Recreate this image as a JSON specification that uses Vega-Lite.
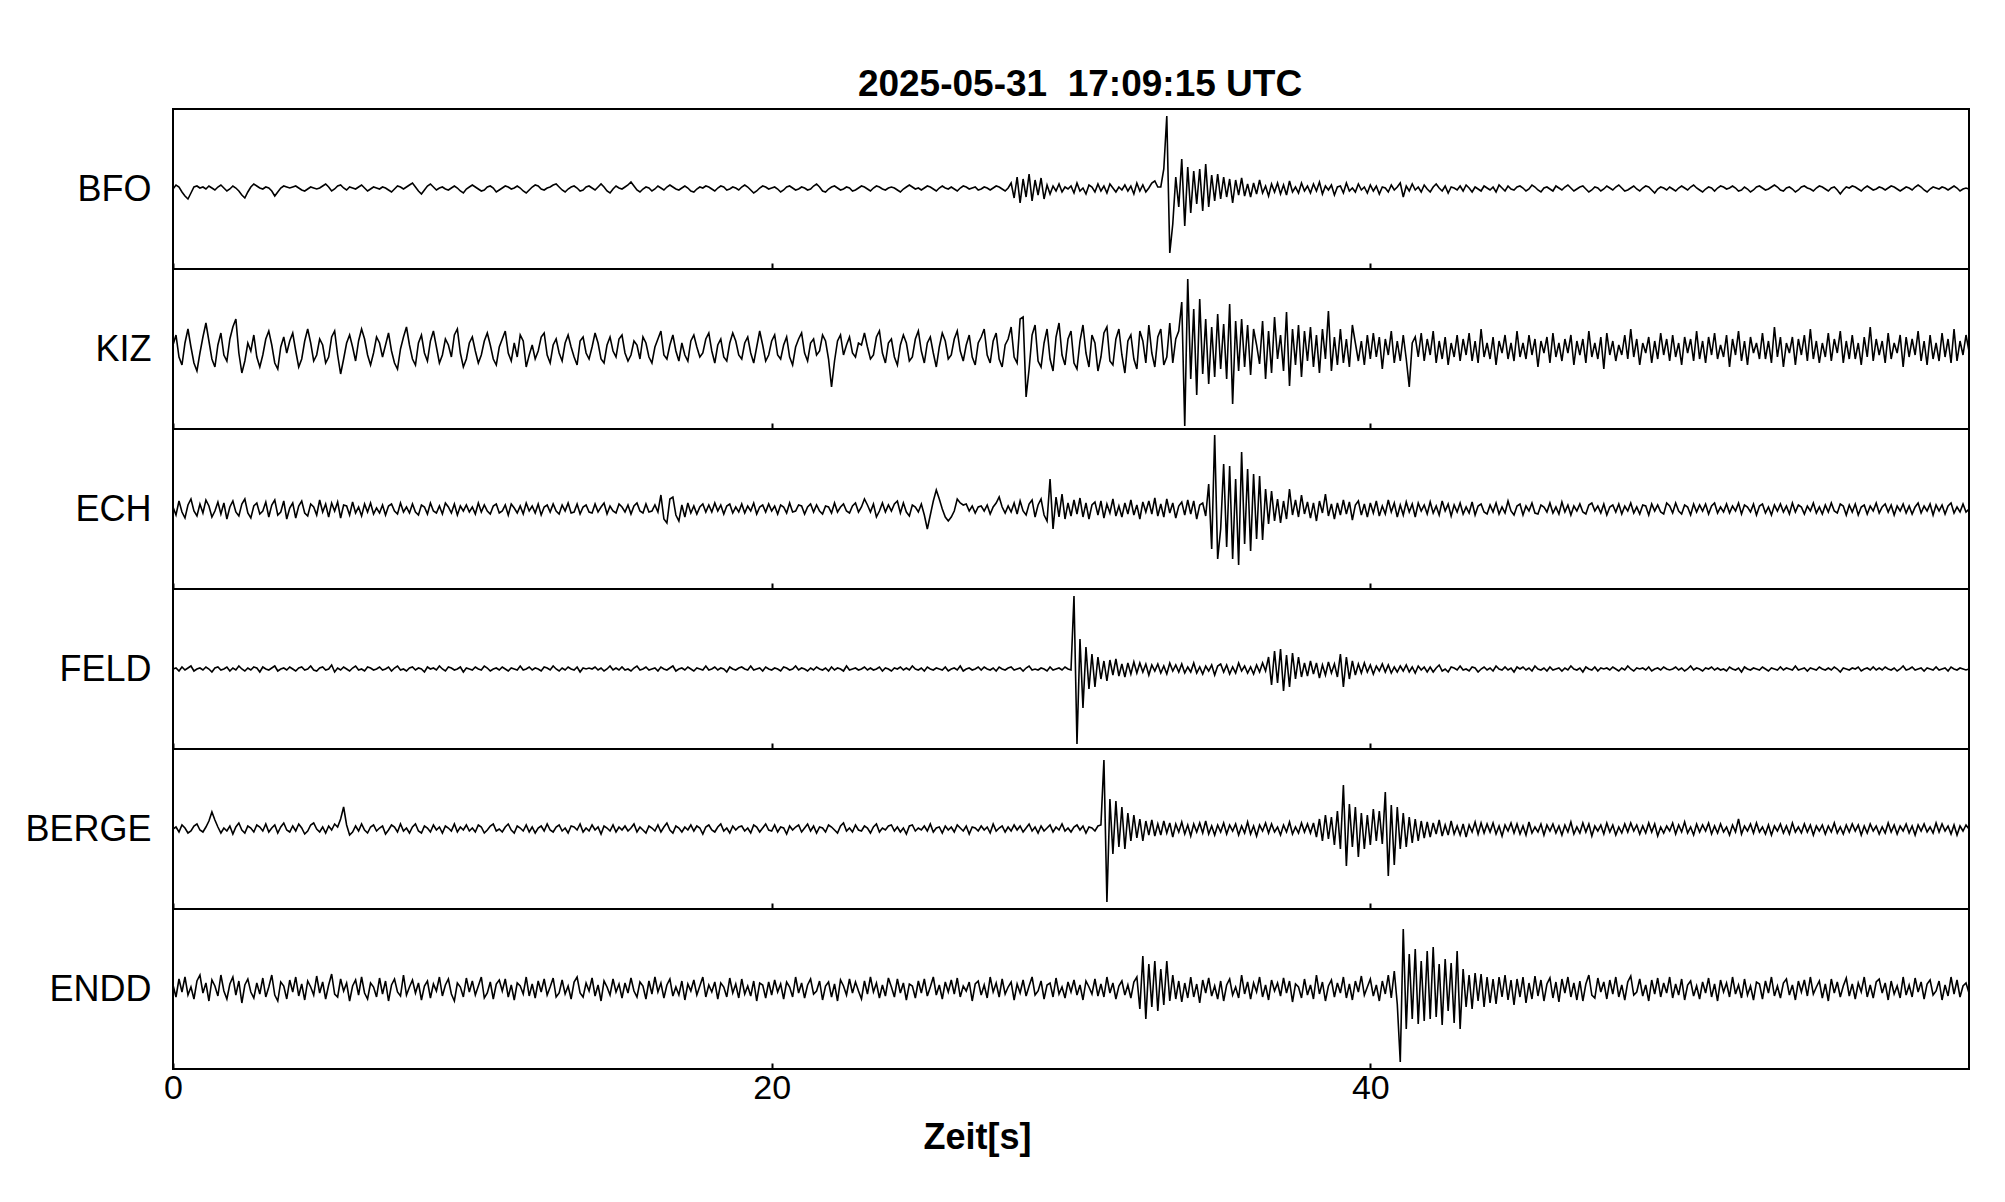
{
"$schema": "https://vega.github.io/schema/vega-lite/v6.json",
"background": "white",
"padding": {"left": 23, "top": 65, "right": 5, "bottom": 5},
"config": {"view": {"stroke": "black", "strokeWidth": 2}, "font": "Liberation Sans"},
"bounds": "flush",
"spacing": 0,
"data": {"values": [
{"t":0.0,"BFO":0,"KIZ":4,"ECH":2,"FELD":0,"BERGE":0,"ENDD":4},
{"t":0.1,"BFO":4,"KIZ":14,"ECH":-6,"FELD":1,"BERGE":2,"ENDD":-8},
{"t":0.2,"BFO":2,"KIZ":-8,"ECH":8,"FELD":-2,"BERGE":-3,"ENDD":10},
{"t":0.3,"BFO":-3,"KIZ":-16,"ECH":-3,"FELD":2,"BERGE":4,"ENDD":-3},
{"t":0.4,"BFO":-7,"KIZ":6,"ECH":-9,"FELD":-1,"BERGE":1,"ENDD":12},
{"t":0.5,"BFO":-10,"KIZ":20,"ECH":4,"FELD":1,"BERGE":-4,"ENDD":-6},
{"t":0.6,"BFO":-4,"KIZ":2,"ECH":10,"FELD":3,"BERGE":-2,"ENDD":2},
{"t":0.7,"BFO":2,"KIZ":-14,"ECH":-2,"FELD":-2,"BERGE":3,"ENDD":-10},
{"t":0.8,"BFO":3,"KIZ":-22,"ECH":-7,"FELD":0,"BERGE":5,"ENDD":8},
{"t":0.9,"BFO":1,"KIZ":-4,"ECH":5,"FELD":1,"BERGE":-1,"ENDD":14},
{"t":1.0,"BFO":2,"KIZ":12,"ECH":-4,"FELD":-1,"BERGE":-3,"ENDD":-4},
{"t":1.1,"BFO":0,"KIZ":26,"ECH":9,"FELD":2,"BERGE":2,"ENDD":6},
{"t":1.2,"BFO":3,"KIZ":8,"ECH":3,"FELD":0,"BERGE":8,"ENDD":-12},
{"t":1.3,"BFO":1,"KIZ":-10,"ECH":-8,"FELD":-3,"BERGE":17,"ENDD":9},
{"t":1.4,"BFO":-1,"KIZ":-18,"ECH":-2,"FELD":1,"BERGE":9,"ENDD":3},
{"t":1.5,"BFO":2,"KIZ":4,"ECH":7,"FELD":2,"BERGE":2,"ENDD":-7},
{"t":1.6,"BFO":4,"KIZ":16,"ECH":-5,"FELD":-1,"BERGE":-4,"ENDD":14},
{"t":1.7,"BFO":1,"KIZ":-6,"ECH":6,"FELD":0,"BERGE":1,"ENDD":-2},
{"t":1.8,"BFO":-2,"KIZ":-12,"ECH":-10,"FELD":2,"BERGE":-2,"ENDD":-10},
{"t":1.9,"BFO":0,"KIZ":10,"ECH":2,"FELD":-2,"BERGE":3,"ENDD":5},
{"t":2.0,"BFO":3,"KIZ":22,"ECH":8,"FELD":1,"BERGE":-5,"ENDD":12},
{"t":2.1,"BFO":1,"KIZ":30,"ECH":-3,"FELD":-1,"BERGE":2,"ENDD":-6},
{"t":2.2,"BFO":-2,"KIZ":-4,"ECH":-7,"FELD":3,"BERGE":6,"ENDD":8},
{"t":2.3,"BFO":-6,"KIZ":-24,"ECH":5,"FELD":0,"BERGE":-1,"ENDD":-14},
{"t":2.4,"BFO":-9,"KIZ":-12,"ECH":10,"FELD":-2,"BERGE":-4,"ENDD":4},
{"t":2.5,"BFO":-3,"KIZ":6,"ECH":-4,"FELD":1,"BERGE":3,"ENDD":10},
{"t":2.6,"BFO":2,"KIZ":-2,"ECH":-9,"FELD":-1,"BERGE":1,"ENDD":-3},
{"t":2.7,"BFO":5,"KIZ":14,"ECH":3,"FELD":2,"BERGE":-3,"ENDD":-9},
{"t":2.8,"BFO":3,"KIZ":-8,"ECH":6,"FELD":1,"BERGE":4,"ENDD":6},
{"t":2.9,"BFO":1,"KIZ":-18,"ECH":-5,"FELD":-3,"BERGE":2,"ENDD":-5},
{"t":3.0,"BFO":0,"KIZ":-6,"ECH":-2,"FELD":2,"BERGE":-2,"ENDD":11},
{"t":3.1,"BFO":2,"KIZ":10,"ECH":7,"FELD":0,"BERGE":5,"ENDD":-8},
{"t":3.2,"BFO":1,"KIZ":18,"ECH":-8,"FELD":-1,"BERGE":-3,"ENDD":2},
{"t":3.3,"BFO":-2,"KIZ":4,"ECH":4,"FELD":1,"BERGE":1,"ENDD":14},
{"t":3.4,"BFO":-7,"KIZ":-14,"ECH":9,"FELD":3,"BERGE":4,"ENDD":-6},
{"t":3.5,"BFO":-3,"KIZ":-20,"ECH":-6,"FELD":-2,"BERGE":-4,"ENDD":-12},
{"t":3.6,"BFO":1,"KIZ":2,"ECH":-3,"FELD":0,"BERGE":2,"ENDD":7},
{"t":3.7,"BFO":3,"KIZ":12,"ECH":8,"FELD":1,"BERGE":6,"ENDD":3},
{"t":3.8,"BFO":2,"KIZ":-4,"ECH":-10,"FELD":-1,"BERGE":-1,"ENDD":-10},
{"t":3.9,"BFO":1,"KIZ":8,"ECH":1,"FELD":2,"BERGE":-3,"ENDD":9},
{"t":4.0,"BFO":2,"KIZ":16,"ECH":6,"FELD":0,"BERGE":3,"ENDD":-3},
{"t":4.1,"BFO":3,"KIZ":-2,"ECH":-9,"FELD":-2,"BERGE":-2,"ENDD":12},
{"t":4.2,"BFO":1,"KIZ":-18,"ECH":3,"FELD":1,"BERGE":5,"ENDD":-7},
{"t":4.3,"BFO":-1,"KIZ":-10,"ECH":8,"FELD":2,"BERGE":1,"ENDD":5},
{"t":4.4,"BFO":-2,"KIZ":8,"ECH":-4,"FELD":-1,"BERGE":-5,"ENDD":-11},
{"t":4.5,"BFO":0,"KIZ":20,"ECH":-7,"FELD":0,"BERGE":-2,"ENDD":8},
{"t":4.6,"BFO":2,"KIZ":6,"ECH":5,"FELD":3,"BERGE":4,"ENDD":2},
{"t":4.7,"BFO":1,"KIZ":-12,"ECH":2,"FELD":-1,"BERGE":6,"ENDD":-6},
{"t":4.8,"BFO":0,"KIZ":-6,"ECH":-6,"FELD":-2,"BERGE":0,"ENDD":13},
{"t":4.9,"BFO":1,"KIZ":10,"ECH":9,"FELD":1,"BERGE":-3,"ENDD":-4},
{"t":5.0,"BFO":3,"KIZ":4,"ECH":-3,"FELD":2,"BERGE":2,"ENDD":7},
{"t":5.1,"BFO":5,"KIZ":-14,"ECH":5,"FELD":-1,"BERGE":-4,"ENDD":-10},
{"t":5.2,"BFO":2,"KIZ":-8,"ECH":-8,"FELD":0,"BERGE":3,"ENDD":4},
{"t":5.3,"BFO":-2,"KIZ":12,"ECH":6,"FELD":4,"BERGE":-1,"ENDD":15},
{"t":5.4,"BFO":0,"KIZ":18,"ECH":-2,"FELD":-3,"BERGE":5,"ENDD":-5},
{"t":5.5,"BFO":3,"KIZ":-6,"ECH":7,"FELD":1,"BERGE":2,"ENDD":-8},
{"t":5.6,"BFO":4,"KIZ":-25,"ECH":-9,"FELD":-1,"BERGE":10,"ENDD":10},
{"t":5.7,"BFO":1,"KIZ":-10,"ECH":4,"FELD":2,"BERGE":22,"ENDD":-2},
{"t":5.8,"BFO":-1,"KIZ":6,"ECH":3,"FELD":0,"BERGE":4,"ENDD":6},
{"t":5.9,"BFO":2,"KIZ":14,"ECH":-6,"FELD":-2,"BERGE":-6,"ENDD":-12},
{"t":6.0,"BFO":1,"KIZ":2,"ECH":7,"FELD":1,"BERGE":-3,"ENDD":3},
{"t":6.1,"BFO":0,"KIZ":-12,"ECH":-4,"FELD":3,"BERGE":3,"ENDD":9},
{"t":6.2,"BFO":2,"KIZ":8,"ECH":2,"FELD":-1,"BERGE":-2,"ENDD":-6},
{"t":6.3,"BFO":4,"KIZ":20,"ECH":-7,"FELD":0,"BERGE":5,"ENDD":12},
{"t":6.4,"BFO":1,"KIZ":10,"ECH":5,"FELD":-2,"BERGE":-1,"ENDD":-4},
{"t":6.5,"BFO":-2,"KIZ":-6,"ECH":-3,"FELD":2,"BERGE":-4,"ENDD":-10},
{"t":6.6,"BFO":0,"KIZ":-16,"ECH":6,"FELD":1,"BERGE":2,"ENDD":6},
{"t":6.7,"BFO":2,"KIZ":-4,"ECH":-5,"FELD":-1,"BERGE":4,"ENDD":2},
{"t":6.8,"BFO":1,"KIZ":12,"ECH":1,"FELD":0,"BERGE":-2,"ENDD":-8},
{"t":6.9,"BFO":0,"KIZ":6,"ECH":-4,"FELD":2,"BERGE":1,"ENDD":11},
{"t":7.0,"BFO":2,"KIZ":-8,"ECH":4,"FELD":-1,"BERGE":3,"ENDD":-5},
{"t":7.1,"BFO":1,"KIZ":4,"ECH":-6,"FELD":0,"BERGE":-5,"ENDD":8},
{"t":7.2,"BFO":-1,"KIZ":16,"ECH":3,"FELD":2,"BERGE":-1,"ENDD":-12},
{"t":7.3,"BFO":-3,"KIZ":-2,"ECH":5,"FELD":-2,"BERGE":4,"ENDD":4},
{"t":7.4,"BFO":0,"KIZ":-14,"ECH":-2,"FELD":1,"BERGE":2,"ENDD":10},
{"t":7.5,"BFO":3,"KIZ":-20,"ECH":-5,"FELD":3,"BERGE":-3,"ENDD":-3},
{"t":7.6,"BFO":2,"KIZ":0,"ECH":6,"FELD":-1,"BERGE":5,"ENDD":-7},
{"t":7.7,"BFO":0,"KIZ":12,"ECH":-3,"FELD":0,"BERGE":-2,"ENDD":14},
{"t":7.8,"BFO":2,"KIZ":22,"ECH":2,"FELD":-2,"BERGE":1,"ENDD":-6},
{"t":7.9,"BFO":4,"KIZ":4,"ECH":-4,"FELD":1,"BERGE":-4,"ENDD":2},
{"t":8.0,"BFO":6,"KIZ":-10,"ECH":5,"FELD":2,"BERGE":2,"ENDD":9},
{"t":8.1,"BFO":2,"KIZ":-16,"ECH":-3,"FELD":-1,"BERGE":5,"ENDD":-4},
{"t":8.2,"BFO":-2,"KIZ":6,"ECH":-6,"FELD":1,"BERGE":-2,"ENDD":6},
{"t":8.3,"BFO":-5,"KIZ":14,"ECH":4,"FELD":0,"BERGE":-4,"ENDD":-11},
{"t":8.4,"BFO":-1,"KIZ":-4,"ECH":2,"FELD":-3,"BERGE":3,"ENDD":3},
{"t":8.5,"BFO":3,"KIZ":-12,"ECH":-5,"FELD":2,"BERGE":1,"ENDD":8},
{"t":8.6,"BFO":5,"KIZ":8,"ECH":6,"FELD":0,"BERGE":-3,"ENDD":-9},
{"t":8.7,"BFO":2,"KIZ":18,"ECH":-2,"FELD":1,"BERGE":4,"ENDD":5},
{"t":8.8,"BFO":-1,"KIZ":2,"ECH":-4,"FELD":-1,"BERGE":-1,"ENDD":-2},
{"t":8.9,"BFO":1,"KIZ":-14,"ECH":3,"FELD":3,"BERGE":2,"ENDD":12},
{"t":9.0,"BFO":2,"KIZ":-6,"ECH":-5,"FELD":0,"BERGE":-4,"ENDD":-7},
{"t":9.1,"BFO":0,"KIZ":10,"ECH":6,"FELD":-2,"BERGE":3,"ENDD":4},
{"t":9.2,"BFO":-1,"KIZ":4,"ECH":2,"FELD":2,"BERGE":1,"ENDD":10},
{"t":9.3,"BFO":1,"KIZ":-8,"ECH":-4,"FELD":1,"BERGE":-2,"ENDD":-5},
{"t":9.4,"BFO":3,"KIZ":14,"ECH":5,"FELD":-1,"BERGE":5,"ENDD":-12},
{"t":9.5,"BFO":1,"KIZ":20,"ECH":-6,"FELD":0,"BERGE":-3,"ENDD":6},
{"t":9.6,"BFO":-2,"KIZ":-4,"ECH":3,"FELD":2,"BERGE":2,"ENDD":2},
{"t":9.7,"BFO":-4,"KIZ":-18,"ECH":-2,"FELD":-3,"BERGE":-1,"ENDD":-8},
{"t":9.8,"BFO":0,"KIZ":-10,"ECH":4,"FELD":1,"BERGE":4,"ENDD":11},
{"t":9.9,"BFO":2,"KIZ":6,"ECH":-3,"FELD":0,"BERGE":-2,"ENDD":-3},
{"t":10.0,"BFO":4,"KIZ":12,"ECH":2,"FELD":-1,"BERGE":1,"ENDD":8},
{"t":10.1,"BFO":2,"KIZ":-2,"ECH":-5,"FELD":2,"BERGE":-3,"ENDD":-6},
{"t":10.2,"BFO":0,"KIZ":-14,"ECH":6,"FELD":0,"BERGE":4,"ENDD":3},
{"t":10.3,"BFO":-2,"KIZ":-6,"ECH":-3,"FELD":-1,"BERGE":2,"ENDD":12},
{"t":10.4,"BFO":-1,"KIZ":8,"ECH":4,"FELD":3,"BERGE":-4,"ENDD":-9},
{"t":10.5,"BFO":2,"KIZ":16,"ECH":-2,"FELD":1,"BERGE":-1,"ENDD":-4},
{"t":10.6,"BFO":3,"KIZ":4,"ECH":-5,"FELD":-2,"BERGE":3,"ENDD":7},
{"t":10.7,"BFO":1,"KIZ":-10,"ECH":3,"FELD":0,"BERGE":5,"ENDD":-10},
{"t":10.8,"BFO":-3,"KIZ":-16,"ECH":5,"FELD":1,"BERGE":-2,"ENDD":5},
{"t":10.9,"BFO":-1,"KIZ":2,"ECH":-4,"FELD":-1,"BERGE":0,"ENDD":9},
{"t":11.0,"BFO":1,"KIZ":10,"ECH":-2,"FELD":2,"BERGE":-3,"ENDD":-2},
{"t":11.1,"BFO":3,"KIZ":18,"ECH":4,"FELD":0,"BERGE":2,"ENDD":10},
{"t":11.2,"BFO":2,"KIZ":-4,"ECH":-6,"FELD":-2,"BERGE":5,"ENDD":-8},
{"t":11.3,"BFO":0,"KIZ":-12,"ECH":5,"FELD":1,"BERGE":-1,"ENDD":4},
{"t":11.4,"BFO":1,"KIZ":6,"ECH":1,"FELD":0,"BERGE":-4,"ENDD":-11},
{"t":11.5,"BFO":3,"KIZ":-8,"ECH":-4,"FELD":-1,"BERGE":3,"ENDD":6},
{"t":11.6,"BFO":1,"KIZ":14,"ECH":3,"FELD":3,"BERGE":1,"ENDD":3},
{"t":11.7,"BFO":-2,"KIZ":8,"ECH":-5,"FELD":-1,"BERGE":-2,"ENDD":-5},
{"t":11.8,"BFO":-4,"KIZ":-18,"ECH":6,"FELD":0,"BERGE":4,"ENDD":12},
{"t":11.9,"BFO":-1,"KIZ":-6,"ECH":-2,"FELD":2,"BERGE":-3,"ENDD":-7},
{"t":12.0,"BFO":2,"KIZ":4,"ECH":3,"FELD":-1,"BERGE":2,"ENDD":5},
{"t":12.1,"BFO":4,"KIZ":-10,"ECH":-4,"FELD":1,"BERGE":-4,"ENDD":-9},
{"t":12.2,"BFO":3,"KIZ":-2,"ECH":5,"FELD":0,"BERGE":1,"ENDD":8},
{"t":12.3,"BFO":0,"KIZ":12,"ECH":-6,"FELD":-2,"BERGE":3,"ENDD":-3},
{"t":12.4,"BFO":-1,"KIZ":16,"ECH":2,"FELD":2,"BERGE":-2,"ENDD":10},
{"t":12.5,"BFO":1,"KIZ":-6,"ECH":4,"FELD":1,"BERGE":5,"ENDD":-6},
{"t":12.6,"BFO":2,"KIZ":-14,"ECH":-3,"FELD":-1,"BERGE":-1,"ENDD":2},
{"t":12.7,"BFO":4,"KIZ":4,"ECH":5,"FELD":3,"BERGE":-3,"ENDD":11},
{"t":12.8,"BFO":5,"KIZ":10,"ECH":-2,"FELD":0,"BERGE":2,"ENDD":-8},
{"t":12.9,"BFO":2,"KIZ":-4,"ECH":-5,"FELD":-2,"BERGE":4,"ENDD":-4},
{"t":13.0,"BFO":-1,"KIZ":-12,"ECH":4,"FELD":1,"BERGE":-2,"ENDD":9},
{"t":13.1,"BFO":-3,"KIZ":6,"ECH":-2,"FELD":-1,"BERGE":1,"ENDD":-5},
{"t":13.2,"BFO":0,"KIZ":14,"ECH":6,"FELD":2,"BERGE":-4,"ENDD":3},
{"t":13.3,"BFO":2,"KIZ":2,"ECH":-4,"FELD":0,"BERGE":3,"ENDD":-10},
{"t":13.4,"BFO":3,"KIZ":-8,"ECH":-3,"FELD":-1,"BERGE":2,"ENDD":7},
{"t":13.5,"BFO":1,"KIZ":-16,"ECH":5,"FELD":2,"BERGE":-1,"ENDD":12},
{"t":13.6,"BFO":-2,"KIZ":8,"ECH":-5,"FELD":-3,"BERGE":5,"ENDD":-4},
{"t":13.7,"BFO":-1,"KIZ":12,"ECH":2,"FELD":1,"BERGE":-3,"ENDD":-8},
{"t":13.8,"BFO":2,"KIZ":-4,"ECH":4,"FELD":0,"BERGE":1,"ENDD":6},
{"t":13.9,"BFO":3,"KIZ":-10,"ECH":-3,"FELD":1,"BERGE":-2,"ENDD":-2},
{"t":14.0,"BFO":1,"KIZ":2,"ECH":-4,"FELD":0,"BERGE":4,"ENDD":11},
{"t":14.1,"BFO":-1,"KIZ":16,"ECH":5,"FELD":2,"BERGE":-1,"ENDD":-7},
{"t":14.2,"BFO":2,"KIZ":6,"ECH":-3,"FELD":-1,"BERGE":2,"ENDD":4},
{"t":14.3,"BFO":5,"KIZ":-10,"ECH":2,"FELD":1,"BERGE":-5,"ENDD":-12},
{"t":14.4,"BFO":2,"KIZ":-14,"ECH":6,"FELD":-2,"BERGE":3,"ENDD":8},
{"t":14.5,"BFO":-2,"KIZ":4,"ECH":-5,"FELD":0,"BERGE":1,"ENDD":2},
{"t":14.6,"BFO":-4,"KIZ":12,"ECH":3,"FELD":3,"BERGE":-2,"ENDD":-6},
{"t":14.7,"BFO":0,"KIZ":-2,"ECH":-2,"FELD":-1,"BERGE":4,"ENDD":10},
{"t":14.8,"BFO":3,"KIZ":-8,"ECH":-4,"FELD":1,"BERGE":-3,"ENDD":-3},
{"t":14.9,"BFO":1,"KIZ":10,"ECH":5,"FELD":-1,"BERGE":2,"ENDD":5},
{"t":15.0,"BFO":0,"KIZ":14,"ECH":2,"FELD":2,"BERGE":-1,"ENDD":-9},
{"t":15.1,"BFO":2,"KIZ":-4,"ECH":-3,"FELD":-1,"BERGE":3,"ENDD":6},
{"t":15.2,"BFO":4,"KIZ":-12,"ECH":4,"FELD":0,"BERGE":-2,"ENDD":-4},
{"t":15.3,"BFO":7,"KIZ":-6,"ECH":-5,"FELD":-2,"BERGE":1,"ENDD":11},
{"t":15.4,"BFO":3,"KIZ":8,"ECH":3,"FELD":1,"BERGE":5,"ENDD":-2},
{"t":15.5,"BFO":-1,"KIZ":4,"ECH":6,"FELD":3,"BERGE":-3,"ENDD":-8},
{"t":15.6,"BFO":-3,"KIZ":-10,"ECH":-2,"FELD":-1,"BERGE":2,"ENDD":7},
{"t":15.7,"BFO":0,"KIZ":12,"ECH":-4,"FELD":0,"BERGE":-1,"ENDD":3},
{"t":15.8,"BFO":2,"KIZ":6,"ECH":5,"FELD":2,"BERGE":-4,"ENDD":-10},
{"t":15.9,"BFO":1,"KIZ":-8,"ECH":-3,"FELD":-1,"BERGE":3,"ENDD":8},
{"t":16.0,"BFO":-2,"KIZ":-14,"ECH":-2,"FELD":0,"BERGE":1,"ENDD":-5},
{"t":16.1,"BFO":0,"KIZ":2,"ECH":4,"FELD":1,"BERGE":-2,"ENDD":12},
{"t":16.2,"BFO":3,"KIZ":10,"ECH":-3,"FELD":-2,"BERGE":4,"ENDD":-3},
{"t":16.3,"BFO":1,"KIZ":18,"ECH":14,"FELD":2,"BERGE":-3,"ENDD":6},
{"t":16.4,"BFO":-1,"KIZ":-6,"ECH":-10,"FELD":0,"BERGE":2,"ENDD":-9},
{"t":16.5,"BFO":2,"KIZ":-10,"ECH":-14,"FELD":-1,"BERGE":6,"ENDD":4},
{"t":16.6,"BFO":4,"KIZ":4,"ECH":10,"FELD":1,"BERGE":-1,"ENDD":10},
{"t":16.7,"BFO":2,"KIZ":14,"ECH":12,"FELD":3,"BERGE":-4,"ENDD":-7},
{"t":16.8,"BFO":0,"KIZ":-2,"ECH":-6,"FELD":-2,"BERGE":3,"ENDD":2},
{"t":16.9,"BFO":-1,"KIZ":-12,"ECH":-12,"FELD":0,"BERGE":1,"ENDD":-6},
{"t":17.0,"BFO":1,"KIZ":6,"ECH":4,"FELD":1,"BERGE":-3,"ENDD":8},
{"t":17.1,"BFO":3,"KIZ":-6,"ECH":-8,"FELD":-1,"BERGE":2,"ENDD":-11},
{"t":17.2,"BFO":1,"KIZ":-12,"ECH":6,"FELD":2,"BERGE":-1,"ENDD":5},
{"t":17.3,"BFO":-2,"KIZ":8,"ECH":-4,"FELD":0,"BERGE":4,"ENDD":-2},
{"t":17.4,"BFO":-3,"KIZ":14,"ECH":3,"FELD":-2,"BERGE":-2,"ENDD":9},
{"t":17.5,"BFO":0,"KIZ":2,"ECH":-5,"FELD":1,"BERGE":3,"ENDD":-6},
{"t":17.6,"BFO":2,"KIZ":-8,"ECH":2,"FELD":0,"BERGE":1,"ENDD":3},
{"t":17.7,"BFO":1,"KIZ":-4,"ECH":5,"FELD":-1,"BERGE":-5,"ENDD":12},
{"t":17.8,"BFO":3,"KIZ":10,"ECH":-3,"FELD":3,"BERGE":2,"ENDD":-8},
{"t":17.9,"BFO":2,"KIZ":16,"ECH":4,"FELD":-1,"BERGE":4,"ENDD":4},
{"t":18.0,"BFO":0,"KIZ":-2,"ECH":-3,"FELD":0,"BERGE":-1,"ENDD":-3},
{"t":18.1,"BFO":-2,"KIZ":-14,"ECH":6,"FELD":2,"BERGE":-3,"ENDD":7},
{"t":18.2,"BFO":1,"KIZ":4,"ECH":-2,"FELD":-1,"BERGE":2,"ENDD":-10},
{"t":18.3,"BFO":3,"KIZ":10,"ECH":4,"FELD":1,"BERGE":5,"ENDD":6},
{"t":18.4,"BFO":2,"KIZ":-8,"ECH":-5,"FELD":0,"BERGE":-2,"ENDD":2},
{"t":18.5,"BFO":-1,"KIZ":-12,"ECH":3,"FELD":-3,"BERGE":1,"ENDD":-8},
{"t":18.6,"BFO":0,"KIZ":6,"ECH":5,"FELD":2,"BERGE":-4,"ENDD":11},
{"t":18.7,"BFO":2,"KIZ":16,"ECH":-4,"FELD":0,"BERGE":3,"ENDD":-4},
{"t":18.8,"BFO":1,"KIZ":8,"ECH":2,"FELD":-1,"BERGE":-1,"ENDD":5},
{"t":18.9,"BFO":-1,"KIZ":-6,"ECH":-3,"FELD":1,"BERGE":2,"ENDD":-9},
{"t":19.0,"BFO":2,"KIZ":-10,"ECH":5,"FELD":2,"BERGE":3,"ENDD":10},
{"t":19.1,"BFO":4,"KIZ":6,"ECH":-4,"FELD":0,"BERGE":-2,"ENDD":-5},
{"t":19.2,"BFO":2,"KIZ":12,"ECH":3,"FELD":-1,"BERGE":1,"ENDD":3},
{"t":19.3,"BFO":-1,"KIZ":-4,"ECH":-2,"FELD":3,"BERGE":-4,"ENDD":-7},
{"t":19.4,"BFO":-4,"KIZ":-14,"ECH":6,"FELD":-1,"BERGE":4,"ENDD":8},
{"t":19.5,"BFO":-2,"KIZ":2,"ECH":-5,"FELD":0,"BERGE":2,"ENDD":-12},
{"t":19.6,"BFO":1,"KIZ":18,"ECH":2,"FELD":1,"BERGE":-3,"ENDD":6},
{"t":19.7,"BFO":3,"KIZ":4,"ECH":4,"FELD":-2,"BERGE":1,"ENDD":4},
{"t":19.8,"BFO":2,"KIZ":-12,"ECH":-3,"FELD":2,"BERGE":5,"ENDD":-9},
{"t":19.9,"BFO":0,"KIZ":-6,"ECH":5,"FELD":0,"BERGE":-1,"ENDD":7},
{"t":20.0,"BFO":1,"KIZ":8,"ECH":-2,"FELD":-1,"BERGE":-2,"ENDD":-6},
{"t":20.1,"BFO":2,"KIZ":14,"ECH":3,"FELD":1,"BERGE":4,"ENDD":9},
{"t":20.2,"BFO":0,"KIZ":-6,"ECH":-5,"FELD":0,"BERGE":-3,"ENDD":-3},
{"t":20.3,"BFO":-3,"KIZ":-10,"ECH":4,"FELD":-2,"BERGE":2,"ENDD":5},
{"t":20.4,"BFO":-1,"KIZ":4,"ECH":2,"FELD":2,"BERGE":1,"ENDD":-10},
{"t":20.5,"BFO":2,"KIZ":12,"ECH":-4,"FELD":1,"BERGE":-5,"ENDD":7},
{"t":20.6,"BFO":3,"KIZ":-8,"ECH":6,"FELD":-1,"BERGE":3,"ENDD":2},
{"t":20.7,"BFO":1,"KIZ":-16,"ECH":-3,"FELD":0,"BERGE":-1,"ENDD":-8},
{"t":20.8,"BFO":-1,"KIZ":2,"ECH":-2,"FELD":3,"BERGE":2,"ENDD":12},
{"t":20.9,"BFO":0,"KIZ":10,"ECH":4,"FELD":-1,"BERGE":4,"ENDD":-4},
{"t":21.0,"BFO":2,"KIZ":16,"ECH":3,"FELD":1,"BERGE":-3,"ENDD":6},
{"t":21.1,"BFO":1,"KIZ":-4,"ECH":-5,"FELD":0,"BERGE":1,"ENDD":-9},
{"t":21.2,"BFO":-1,"KIZ":-12,"ECH":2,"FELD":-2,"BERGE":5,"ENDD":4},
{"t":21.3,"BFO":0,"KIZ":6,"ECH":5,"FELD":1,"BERGE":-2,"ENDD":10},
{"t":21.4,"BFO":3,"KIZ":10,"ECH":-3,"FELD":-1,"BERGE":3,"ENDD":-5},
{"t":21.5,"BFO":5,"KIZ":-6,"ECH":4,"FELD":2,"BERGE":-4,"ENDD":-2},
{"t":21.6,"BFO":2,"KIZ":-2,"ECH":-2,"FELD":0,"BERGE":2,"ENDD":8},
{"t":21.7,"BFO":-2,"KIZ":14,"ECH":-5,"FELD":-1,"BERGE":1,"ENDD":-11},
{"t":21.8,"BFO":-3,"KIZ":8,"ECH":3,"FELD":1,"BERGE":-3,"ENDD":3},
{"t":21.9,"BFO":0,"KIZ":-10,"ECH":2,"FELD":-2,"BERGE":4,"ENDD":7},
{"t":22.0,"BFO":2,"KIZ":-38,"ECH":-4,"FELD":2,"BERGE":2,"ENDD":-8},
{"t":22.1,"BFO":3,"KIZ":-12,"ECH":6,"FELD":-1,"BERGE":-1,"ENDD":5},
{"t":22.2,"BFO":1,"KIZ":8,"ECH":-3,"FELD":1,"BERGE":-4,"ENDD":-12},
{"t":22.3,"BFO":-1,"KIZ":14,"ECH":2,"FELD":0,"BERGE":3,"ENDD":9},
{"t":22.4,"BFO":0,"KIZ":-6,"ECH":5,"FELD":-2,"BERGE":6,"ENDD":3},
{"t":22.5,"BFO":2,"KIZ":4,"ECH":-2,"FELD":3,"BERGE":-2,"ENDD":-6},
{"t":22.6,"BFO":1,"KIZ":12,"ECH":-4,"FELD":-1,"BERGE":1,"ENDD":10},
{"t":22.7,"BFO":-2,"KIZ":-4,"ECH":3,"FELD":0,"BERGE":-3,"ENDD":-4},
{"t":22.8,"BFO":-1,"KIZ":-8,"ECH":6,"FELD":1,"BERGE":4,"ENDD":7},
{"t":22.9,"BFO":1,"KIZ":6,"ECH":-3,"FELD":-1,"BERGE":-1,"ENDD":-2},
{"t":23.0,"BFO":3,"KIZ":4,"ECH":2,"FELD":0,"BERGE":-2,"ENDD":-10},
{"t":23.1,"BFO":2,"KIZ":16,"ECH":10,"FELD":2,"BERGE":3,"ENDD":8},
{"t":23.2,"BFO":0,"KIZ":2,"ECH":4,"FELD":-1,"BERGE":1,"ENDD":-5},
{"t":23.3,"BFO":-2,"KIZ":-10,"ECH":-3,"FELD":1,"BERGE":-4,"ENDD":12},
{"t":23.4,"BFO":1,"KIZ":-6,"ECH":5,"FELD":-1,"BERGE":2,"ENDD":-3},
{"t":23.5,"BFO":3,"KIZ":12,"ECH":-8,"FELD":0,"BERGE":5,"ENDD":6},
{"t":23.6,"BFO":2,"KIZ":18,"ECH":-2,"FELD":2,"BERGE":-3,"ENDD":-9},
{"t":23.7,"BFO":0,"KIZ":-4,"ECH":6,"FELD":-2,"BERGE":1,"ENDD":4},
{"t":23.8,"BFO":-1,"KIZ":-14,"ECH":-3,"FELD":1,"BERGE":-1,"ENDD":-7},
{"t":23.9,"BFO":1,"KIZ":6,"ECH":4,"FELD":0,"BERGE":3,"ENDD":11},
{"t":24.0,"BFO":2,"KIZ":10,"ECH":-2,"FELD":-2,"BERGE":4,"ENDD":2},
{"t":24.1,"BFO":1,"KIZ":-8,"ECH":5,"FELD":1,"BERGE":-2,"ENDD":-8},
{"t":24.2,"BFO":-1,"KIZ":-16,"ECH":8,"FELD":0,"BERGE":2,"ENDD":10},
{"t":24.3,"BFO":-3,"KIZ":4,"ECH":-4,"FELD":2,"BERGE":-3,"ENDD":-4},
{"t":24.4,"BFO":0,"KIZ":14,"ECH":6,"FELD":-1,"BERGE":1,"ENDD":6},
{"t":24.5,"BFO":2,"KIZ":6,"ECH":-3,"FELD":1,"BERGE":-5,"ENDD":-11},
{"t":24.6,"BFO":4,"KIZ":-12,"ECH":-7,"FELD":-1,"BERGE":3,"ENDD":5},
{"t":24.7,"BFO":2,"KIZ":-8,"ECH":4,"FELD":3,"BERGE":4,"ENDD":3},
{"t":24.8,"BFO":0,"KIZ":10,"ECH":2,"FELD":0,"BERGE":-2,"ENDD":-9},
{"t":24.9,"BFO":1,"KIZ":18,"ECH":-3,"FELD":-1,"BERGE":1,"ENDD":8},
{"t":25.0,"BFO":-1,"KIZ":-2,"ECH":5,"FELD":1,"BERGE":-1,"ENDD":-4},
{"t":25.1,"BFO":1,"KIZ":-14,"ECH":-6,"FELD":-2,"BERGE":3,"ENDD":10},
{"t":25.2,"BFO":3,"KIZ":6,"ECH":-20,"FELD":2,"BERGE":-2,"ENDD":-7},
{"t":25.3,"BFO":2,"KIZ":12,"ECH":-6,"FELD":0,"BERGE":5,"ENDD":2},
{"t":25.4,"BFO":0,"KIZ":-4,"ECH":8,"FELD":-1,"BERGE":-3,"ENDD":12},
{"t":25.5,"BFO":-2,"KIZ":-18,"ECH":19,"FELD":1,"BERGE":1,"ENDD":-6},
{"t":25.6,"BFO":1,"KIZ":2,"ECH":10,"FELD":0,"BERGE":2,"ENDD":4},
{"t":25.7,"BFO":3,"KIZ":16,"ECH":0,"FELD":-1,"BERGE":-4,"ENDD":-10},
{"t":25.8,"BFO":1,"KIZ":8,"ECH":-8,"FELD":2,"BERGE":3,"ENDD":7},
{"t":25.9,"BFO":0,"KIZ":-10,"ECH":-12,"FELD":-2,"BERGE":-1,"ENDD":-3},
{"t":26.0,"BFO":2,"KIZ":-6,"ECH":-8,"FELD":0,"BERGE":2,"ENDD":9},
{"t":26.1,"BFO":0,"KIZ":10,"ECH":-2,"FELD":1,"BERGE":-3,"ENDD":-5},
{"t":26.2,"BFO":-2,"KIZ":18,"ECH":10,"FELD":-1,"BERGE":4,"ENDD":11},
{"t":26.3,"BFO":1,"KIZ":-2,"ECH":6,"FELD":3,"BERGE":1,"ENDD":-8},
{"t":26.4,"BFO":3,"KIZ":-12,"ECH":4,"FELD":-2,"BERGE":-2,"ENDD":3},
{"t":26.5,"BFO":2,"KIZ":4,"ECH":5,"FELD":0,"BERGE":3,"ENDD":-2},
{"t":26.6,"BFO":0,"KIZ":14,"ECH":-2,"FELD":1,"BERGE":-5,"ENDD":7},
{"t":26.7,"BFO":1,"KIZ":-8,"ECH":3,"FELD":-1,"BERGE":2,"ENDD":-12},
{"t":26.8,"BFO":2,"KIZ":-16,"ECH":-4,"FELD":0,"BERGE":1,"ENDD":5},
{"t":26.9,"BFO":-1,"KIZ":6,"ECH":2,"FELD":2,"BERGE":-2,"ENDD":8},
{"t":27.0,"BFO":0,"KIZ":12,"ECH":3,"FELD":-1,"BERGE":3,"ENDD":-6},
{"t":27.1,"BFO":2,"KIZ":20,"ECH":-2,"FELD":2,"BERGE":-1,"ENDD":4},
{"t":27.2,"BFO":1,"KIZ":-6,"ECH":4,"FELD":0,"BERGE":2,"ENDD":-9},
{"t":27.3,"BFO":-1,"KIZ":-14,"ECH":-5,"FELD":-1,"BERGE":-4,"ENDD":12},
{"t":27.4,"BFO":1,"KIZ":8,"ECH":2,"FELD":1,"BERGE":5,"ENDD":-3},
{"t":27.5,"BFO":3,"KIZ":16,"ECH":6,"FELD":-2,"BERGE":-2,"ENDD":6},
{"t":27.6,"BFO":2,"KIZ":-10,"ECH":12,"FELD":2,"BERGE":1,"ENDD":-8},
{"t":27.7,"BFO":0,"KIZ":-18,"ECH":2,"FELD":0,"BERGE":3,"ENDD":10},
{"t":27.8,"BFO":-2,"KIZ":4,"ECH":-4,"FELD":-1,"BERGE":-3,"ENDD":-5},
{"t":27.9,"BFO":1,"KIZ":10,"ECH":3,"FELD":1,"BERGE":2,"ENDD":2},
{"t":28.0,"BFO":6,"KIZ":22,"ECH":-3,"FELD":2,"BERGE":-2,"ENDD":7},
{"t":28.1,"BFO":-9,"KIZ":-8,"ECH":6,"FELD":-1,"BERGE":4,"ENDD":-11},
{"t":28.2,"BFO":12,"KIZ":-14,"ECH":-5,"FELD":0,"BERGE":-1,"ENDD":5},
{"t":28.3,"BFO":-14,"KIZ":30,"ECH":8,"FELD":1,"BERGE":3,"ENDD":-4},
{"t":28.4,"BFO":10,"KIZ":32,"ECH":-2,"FELD":-2,"BERGE":-3,"ENDD":9},
{"t":28.5,"BFO":-8,"KIZ":-48,"ECH":-6,"FELD":1,"BERGE":1,"ENDD":-7},
{"t":28.6,"BFO":15,"KIZ":-20,"ECH":5,"FELD":3,"BERGE":5,"ENDD":3},
{"t":28.7,"BFO":-12,"KIZ":14,"ECH":9,"FELD":-1,"BERGE":-2,"ENDD":12},
{"t":28.8,"BFO":9,"KIZ":24,"ECH":-8,"FELD":0,"BERGE":2,"ENDD":-6},
{"t":28.9,"BFO":-6,"KIZ":-12,"ECH":4,"FELD":-1,"BERGE":-4,"ENDD":-2},
{"t":29.0,"BFO":11,"KIZ":-18,"ECH":10,"FELD":1,"BERGE":3,"ENDD":8},
{"t":29.1,"BFO":-10,"KIZ":6,"ECH":-6,"FELD":0,"BERGE":-2,"ENDD":-10},
{"t":29.2,"BFO":4,"KIZ":20,"ECH":-12,"FELD":-2,"BERGE":1,"ENDD":4},
{"t":29.3,"BFO":-5,"KIZ":-10,"ECH":30,"FELD":2,"BERGE":4,"ENDD":6},
{"t":29.4,"BFO":3,"KIZ":-22,"ECH":-20,"FELD":-1,"BERGE":-3,"ENDD":-8},
{"t":29.5,"BFO":-2,"KIZ":12,"ECH":12,"FELD":0,"BERGE":2,"ENDD":11},
{"t":29.6,"BFO":5,"KIZ":26,"ECH":-8,"FELD":1,"BERGE":-1,"ENDD":-5},
{"t":29.7,"BFO":-3,"KIZ":-6,"ECH":15,"FELD":-1,"BERGE":5,"ENDD":2},
{"t":29.8,"BFO":2,"KIZ":-16,"ECH":-10,"FELD":2,"BERGE":-2,"ENDD":-9},
{"t":29.9,"BFO":0,"KIZ":10,"ECH":6,"FELD":0,"BERGE":1,"ENDD":7},
{"t":30.0,"BFO":3,"KIZ":18,"ECH":-7,"FELD":-1,"BERGE":-3,"ENDD":-3},
{"t":30.1,"BFO":-4,"KIZ":-14,"ECH":9,"FELD":73,"BERGE":2,"ENDD":9},
{"t":30.2,"BFO":6,"KIZ":-20,"ECH":-5,"FELD":-75,"BERGE":4,"ENDD":-6},
{"t":30.3,"BFO":-2,"KIZ":8,"ECH":11,"FELD":30,"BERGE":-1,"ENDD":4},
{"t":30.4,"BFO":1,"KIZ":24,"ECH":-8,"FELD":-39,"BERGE":3,"ENDD":-11},
{"t":30.5,"BFO":-5,"KIZ":-4,"ECH":6,"FELD":22,"BERGE":-4,"ENDD":8},
{"t":30.6,"BFO":4,"KIZ":-18,"ECH":-10,"FELD":-20,"BERGE":2,"ENDD":2},
{"t":30.7,"BFO":2,"KIZ":14,"ECH":4,"FELD":15,"BERGE":1,"ENDD":-5},
{"t":30.8,"BFO":-3,"KIZ":6,"ECH":7,"FELD":-18,"BERGE":-2,"ENDD":10},
{"t":30.9,"BFO":5,"KIZ":-22,"ECH":-6,"FELD":12,"BERGE":3,"ENDD":-7},
{"t":31.0,"BFO":-2,"KIZ":-8,"ECH":8,"FELD":-10,"BERGE":4,"ENDD":5},
{"t":31.1,"BFO":3,"KIZ":16,"ECH":-9,"FELD":8,"BERGE":69,"ENDD":-8},
{"t":31.2,"BFO":-4,"KIZ":22,"ECH":5,"FELD":-12,"BERGE":-73,"ENDD":12},
{"t":31.3,"BFO":5,"KIZ":-12,"ECH":-4,"FELD":9,"BERGE":30,"ENDD":-4},
{"t":31.4,"BFO":1,"KIZ":-16,"ECH":10,"FELD":-6,"BERGE":-25,"ENDD":6},
{"t":31.5,"BFO":-3,"KIZ":10,"ECH":-7,"FELD":10,"BERGE":28,"ENDD":-10},
{"t":31.6,"BFO":2,"KIZ":20,"ECH":3,"FELD":-7,"BERGE":-18,"ENDD":3},
{"t":31.7,"BFO":-1,"KIZ":-6,"ECH":-8,"FELD":5,"BERGE":22,"ENDD":8},
{"t":31.8,"BFO":4,"KIZ":-24,"ECH":6,"FELD":-8,"BERGE":-20,"ENDD":-6},
{"t":31.9,"BFO":-2,"KIZ":8,"ECH":-5,"FELD":6,"BERGE":16,"ENDD":4},
{"t":32.0,"BFO":3,"KIZ":14,"ECH":9,"FELD":-5,"BERGE":-12,"ENDD":-9},
{"t":32.1,"BFO":-5,"KIZ":-10,"ECH":-6,"FELD":7,"BERGE":14,"ENDD":7},
{"t":32.2,"BFO":6,"KIZ":-20,"ECH":4,"FELD":-4,"BERGE":-9,"ENDD":12},
{"t":32.3,"BFO":-2,"KIZ":18,"ECH":-10,"FELD":6,"BERGE":10,"ENDD":-20},
{"t":32.4,"BFO":4,"KIZ":8,"ECH":7,"FELD":-3,"BERGE":-12,"ENDD":33},
{"t":32.5,"BFO":-3,"KIZ":-14,"ECH":-3,"FELD":5,"BERGE":8,"ENDD":-30},
{"t":32.6,"BFO":1,"KIZ":24,"ECH":8,"FELD":-6,"BERGE":-6,"ENDD":25},
{"t":32.7,"BFO":6,"KIZ":-4,"ECH":-5,"FELD":4,"BERGE":9,"ENDD":-18},
{"t":32.8,"BFO":8,"KIZ":-18,"ECH":11,"FELD":-2,"BERGE":-7,"ENDD":28},
{"t":32.9,"BFO":2,"KIZ":12,"ECH":-7,"FELD":5,"BERGE":5,"ENDD":-22},
{"t":33.0,"BFO":2,"KIZ":20,"ECH":5,"FELD":-4,"BERGE":-6,"ENDD":20},
{"t":33.1,"BFO":20,"KIZ":-16,"ECH":-8,"FELD":3,"BERGE":8,"ENDD":-16},
{"t":33.2,"BFO":73,"KIZ":-8,"ECH":10,"FELD":-5,"BERGE":-4,"ENDD":28},
{"t":33.3,"BFO":-64,"KIZ":26,"ECH":-4,"FELD":6,"BERGE":6,"ENDD":-12},
{"t":33.4,"BFO":-35,"KIZ":-14,"ECH":6,"FELD":-2,"BERGE":-8,"ENDD":14},
{"t":33.5,"BFO":12,"KIZ":10,"ECH":-9,"FELD":4,"BERGE":5,"ENDD":-10},
{"t":33.6,"BFO":-18,"KIZ":18,"ECH":3,"FELD":-3,"BERGE":-3,"ENDD":8},
{"t":33.7,"BFO":30,"KIZ":47,"ECH":7,"FELD":5,"BERGE":7,"ENDD":-13},
{"t":33.8,"BFO":-37,"KIZ":-77,"ECH":-6,"FELD":-4,"BERGE":-5,"ENDD":6},
{"t":33.9,"BFO":22,"KIZ":70,"ECH":9,"FELD":2,"BERGE":4,"ENDD":-9},
{"t":34.0,"BFO":-24,"KIZ":-30,"ECH":-5,"FELD":-3,"BERGE":-7,"ENDD":12},
{"t":34.1,"BFO":18,"KIZ":40,"ECH":8,"FELD":6,"BERGE":5,"ENDD":-8},
{"t":34.2,"BFO":-15,"KIZ":-46,"ECH":-10,"FELD":-4,"BERGE":-3,"ENDD":5},
{"t":34.3,"BFO":20,"KIZ":50,"ECH":4,"FELD":2,"BERGE":6,"ENDD":-14},
{"t":34.4,"BFO":-22,"KIZ":-25,"ECH":6,"FELD":-5,"BERGE":-4,"ENDD":9},
{"t":34.5,"BFO":25,"KIZ":30,"ECH":-7,"FELD":3,"BERGE":8,"ENDD":-4},
{"t":34.6,"BFO":-18,"KIZ":-35,"ECH":25,"FELD":-2,"BERGE":-5,"ENDD":11},
{"t":34.7,"BFO":14,"KIZ":22,"ECH":-40,"FELD":4,"BERGE":3,"ENDD":-7},
{"t":34.8,"BFO":-12,"KIZ":-28,"ECH":74,"FELD":-6,"BERGE":-6,"ENDD":3},
{"t":34.9,"BFO":15,"KIZ":35,"ECH":-50,"FELD":3,"BERGE":4,"ENDD":-10},
{"t":35.0,"BFO":-10,"KIZ":-20,"ECH":-20,"FELD":5,"BERGE":-3,"ENDD":8},
{"t":35.1,"BFO":12,"KIZ":25,"ECH":45,"FELD":-3,"BERGE":6,"ENDD":-12},
{"t":35.2,"BFO":-8,"KIZ":-30,"ECH":-38,"FELD":4,"BERGE":-5,"ENDD":4},
{"t":35.3,"BFO":10,"KIZ":45,"ECH":43,"FELD":-5,"BERGE":4,"ENDD":10},
{"t":35.4,"BFO":-14,"KIZ":-55,"ECH":-50,"FELD":2,"BERGE":-2,"ENDD":-6},
{"t":35.5,"BFO":9,"KIZ":28,"ECH":30,"FELD":-4,"BERGE":5,"ENDD":2},
{"t":35.6,"BFO":-6,"KIZ":-22,"ECH":-56,"FELD":6,"BERGE":-6,"ENDD":-9},
{"t":35.7,"BFO":11,"KIZ":30,"ECH":57,"FELD":-2,"BERGE":3,"ENDD":14},
{"t":35.8,"BFO":-7,"KIZ":-18,"ECH":-35,"FELD":3,"BERGE":-4,"ENDD":-5},
{"t":35.9,"BFO":5,"KIZ":24,"ECH":40,"FELD":-4,"BERGE":7,"ENDD":7},
{"t":36.0,"BFO":-8,"KIZ":-26,"ECH":-42,"FELD":2,"BERGE":-5,"ENDD":-10},
{"t":36.1,"BFO":6,"KIZ":20,"ECH":35,"FELD":-5,"BERGE":3,"ENDD":6},
{"t":36.2,"BFO":-5,"KIZ":4,"ECH":-30,"FELD":4,"BERGE":-7,"ENDD":-3},
{"t":36.3,"BFO":9,"KIZ":-15,"ECH":33,"FELD":-3,"BERGE":4,"ENDD":12},
{"t":36.4,"BFO":-4,"KIZ":28,"ECH":-31,"FELD":6,"BERGE":-2,"ENDD":-8},
{"t":36.5,"BFO":3,"KIZ":-30,"ECH":20,"FELD":-2,"BERGE":6,"ENDD":4},
{"t":36.6,"BFO":-7,"KIZ":18,"ECH":-15,"FELD":12,"BERGE":-4,"ENDD":-11},
{"t":36.7,"BFO":5,"KIZ":-24,"ECH":18,"FELD":-16,"BERGE":5,"ENDD":9},
{"t":36.8,"BFO":-3,"KIZ":32,"ECH":-12,"FELD":18,"BERGE":-3,"ENDD":-2},
{"t":36.9,"BFO":6,"KIZ":-10,"ECH":10,"FELD":-14,"BERGE":2,"ENDD":6},
{"t":37.0,"BFO":-5,"KIZ":14,"ECH":-14,"FELD":20,"BERGE":-6,"ENDD":-7},
{"t":37.1,"BFO":4,"KIZ":-22,"ECH":8,"FELD":-22,"BERGE":4,"ENDD":11},
{"t":37.2,"BFO":-6,"KIZ":37,"ECH":-10,"FELD":14,"BERGE":-3,"ENDD":-4},
{"t":37.3,"BFO":8,"KIZ":-37,"ECH":20,"FELD":-18,"BERGE":7,"ENDD":8},
{"t":37.4,"BFO":-3,"KIZ":20,"ECH":-6,"FELD":16,"BERGE":-5,"ENDD":-13},
{"t":37.5,"BFO":2,"KIZ":-16,"ECH":9,"FELD":-10,"BERGE":2,"ENDD":5},
{"t":37.6,"BFO":-4,"KIZ":24,"ECH":-8,"FELD":12,"BERGE":-4,"ENDD":2},
{"t":37.7,"BFO":6,"KIZ":-28,"ECH":14,"FELD":-8,"BERGE":6,"ENDD":-9},
{"t":37.8,"BFO":-2,"KIZ":18,"ECH":-5,"FELD":6,"BERGE":-3,"ENDD":10},
{"t":37.9,"BFO":3,"KIZ":-12,"ECH":7,"FELD":-7,"BERGE":5,"ENDD":-6},
{"t":38.0,"BFO":-4,"KIZ":22,"ECH":-9,"FELD":8,"BERGE":-4,"ENDD":4},
{"t":38.1,"BFO":5,"KIZ":-18,"ECH":6,"FELD":-5,"BERGE":6,"ENDD":-10},
{"t":38.2,"BFO":-2,"KIZ":14,"ECH":-12,"FELD":6,"BERGE":-8,"ENDD":14},
{"t":38.3,"BFO":7,"KIZ":-24,"ECH":8,"FELD":-9,"BERGE":10,"ENDD":-5},
{"t":38.4,"BFO":-5,"KIZ":20,"ECH":-4,"FELD":4,"BERGE":-12,"ENDD":7},
{"t":38.5,"BFO":3,"KIZ":-10,"ECH":15,"FELD":-6,"BERGE":14,"ENDD":-12},
{"t":38.6,"BFO":-1,"KIZ":38,"ECH":-7,"FELD":7,"BERGE":-10,"ENDD":3},
{"t":38.7,"BFO":4,"KIZ":-22,"ECH":5,"FELD":-4,"BERGE":12,"ENDD":9},
{"t":38.8,"BFO":-6,"KIZ":12,"ECH":-10,"FELD":5,"BERGE":-16,"ENDD":-8},
{"t":38.9,"BFO":2,"KIZ":-16,"ECH":6,"FELD":-8,"BERGE":18,"ENDD":6},
{"t":39.0,"BFO":3,"KIZ":20,"ECH":-6,"FELD":15,"BERGE":-20,"ENDD":-4},
{"t":39.1,"BFO":-4,"KIZ":-14,"ECH":9,"FELD":-18,"BERGE":44,"ENDD":12},
{"t":39.2,"BFO":6,"KIZ":10,"ECH":-5,"FELD":12,"BERGE":-37,"ENDD":-9},
{"t":39.3,"BFO":-2,"KIZ":-18,"ECH":7,"FELD":-10,"BERGE":25,"ENDD":5},
{"t":39.4,"BFO":1,"KIZ":24,"ECH":-11,"FELD":8,"BERGE":-18,"ENDD":-11},
{"t":39.5,"BFO":-3,"KIZ":6,"ECH":4,"FELD":-6,"BERGE":22,"ENDD":8},
{"t":39.6,"BFO":5,"KIZ":-12,"ECH":8,"FELD":5,"BERGE":-28,"ENDD":-3},
{"t":39.7,"BFO":-1,"KIZ":8,"ECH":-6,"FELD":-4,"BERGE":16,"ENDD":13},
{"t":39.8,"BFO":2,"KIZ":-16,"ECH":5,"FELD":6,"BERGE":-20,"ENDD":-6},
{"t":39.9,"BFO":-4,"KIZ":14,"ECH":-8,"FELD":-3,"BERGE":14,"ENDD":2},
{"t":40.0,"BFO":4,"KIZ":-10,"ECH":6,"FELD":4,"BERGE":-16,"ENDD":10},
{"t":40.1,"BFO":-2,"KIZ":16,"ECH":-4,"FELD":-5,"BERGE":20,"ENDD":-7},
{"t":40.2,"BFO":3,"KIZ":-8,"ECH":8,"FELD":3,"BERGE":-12,"ENDD":4},
{"t":40.3,"BFO":-5,"KIZ":12,"ECH":-7,"FELD":-2,"BERGE":18,"ENDD":-12},
{"t":40.4,"BFO":2,"KIZ":-20,"ECH":3,"FELD":5,"BERGE":-15,"ENDD":8},
{"t":40.5,"BFO":1,"KIZ":10,"ECH":-5,"FELD":-3,"BERGE":37,"ENDD":-5},
{"t":40.6,"BFO":-3,"KIZ":-6,"ECH":9,"FELD":4,"BERGE":-47,"ENDD":14},
{"t":40.7,"BFO":4,"KIZ":18,"ECH":-3,"FELD":-4,"BERGE":24,"ENDD":-9},
{"t":40.8,"BFO":-1,"KIZ":-14,"ECH":6,"FELD":2,"BERGE":-36,"ENDD":18},
{"t":40.9,"BFO":2,"KIZ":8,"ECH":-8,"FELD":-3,"BERGE":22,"ENDD":-15},
{"t":41.0,"BFO":6,"KIZ":-12,"ECH":4,"FELD":3,"BERGE":-20,"ENDD":-73},
{"t":41.1,"BFO":-8,"KIZ":14,"ECH":-6,"FELD":-2,"BERGE":16,"ENDD":60},
{"t":41.2,"BFO":3,"KIZ":-10,"ECH":7,"FELD":4,"BERGE":-18,"ENDD":-40},
{"t":41.3,"BFO":-2,"KIZ":-38,"ECH":-3,"FELD":-3,"BERGE":12,"ENDD":35},
{"t":41.4,"BFO":5,"KIZ":6,"ECH":5,"FELD":2,"BERGE":-14,"ENDD":-30},
{"t":41.5,"BFO":-1,"KIZ":12,"ECH":-8,"FELD":-4,"BERGE":10,"ENDD":40},
{"t":41.6,"BFO":2,"KIZ":-8,"ECH":6,"FELD":3,"BERGE":-12,"ENDD":-35},
{"t":41.7,"BFO":-3,"KIZ":16,"ECH":-2,"FELD":-1,"BERGE":8,"ENDD":28},
{"t":41.8,"BFO":4,"KIZ":-12,"ECH":4,"FELD":2,"BERGE":-9,"ENDD":-32},
{"t":41.9,"BFO":0,"KIZ":10,"ECH":-5,"FELD":-3,"BERGE":7,"ENDD":38},
{"t":42.0,"BFO":-3,"KIZ":-6,"ECH":7,"FELD":2,"BERGE":-8,"ENDD":-30},
{"t":42.1,"BFO":2,"KIZ":18,"ECH":-4,"FELD":-3,"BERGE":6,"ENDD":42},
{"t":42.2,"BFO":5,"KIZ":-14,"ECH":3,"FELD":1,"BERGE":-5,"ENDD":-28},
{"t":42.3,"BFO":1,"KIZ":8,"ECH":-6,"FELD":4,"BERGE":9,"ENDD":25},
{"t":42.4,"BFO":-2,"KIZ":-10,"ECH":8,"FELD":-2,"BERGE":-7,"ENDD":-36},
{"t":42.5,"BFO":3,"KIZ":12,"ECH":-2,"FELD":0,"BERGE":4,"ENDD":30},
{"t":42.6,"BFO":-4,"KIZ":-16,"ECH":5,"FELD":-3,"BERGE":-6,"ENDD":-22},
{"t":42.7,"BFO":2,"KIZ":6,"ECH":-7,"FELD":2,"BERGE":8,"ENDD":26},
{"t":42.8,"BFO":1,"KIZ":-8,"ECH":4,"FELD":1,"BERGE":-5,"ENDD":-34},
{"t":42.9,"BFO":-1,"KIZ":14,"ECH":-3,"FELD":-1,"BERGE":3,"ENDD":38},
{"t":43.0,"BFO":3,"KIZ":-12,"ECH":6,"FELD":3,"BERGE":-6,"ENDD":-40},
{"t":43.1,"BFO":-2,"KIZ":10,"ECH":-5,"FELD":-1,"BERGE":5,"ENDD":20},
{"t":43.2,"BFO":4,"KIZ":-6,"ECH":2,"FELD":0,"BERGE":-8,"ENDD":-18},
{"t":43.3,"BFO":1,"KIZ":16,"ECH":-4,"FELD":-2,"BERGE":4,"ENDD":14},
{"t":43.4,"BFO":-3,"KIZ":-12,"ECH":7,"FELD":2,"BERGE":-3,"ENDD":-20},
{"t":43.5,"BFO":2,"KIZ":8,"ECH":-6,"FELD":1,"BERGE":7,"ENDD":16},
{"t":43.6,"BFO":0,"KIZ":-14,"ECH":3,"FELD":-3,"BERGE":-5,"ENDD":-12},
{"t":43.7,"BFO":-2,"KIZ":20,"ECH":5,"FELD":0,"BERGE":6,"ENDD":15},
{"t":43.8,"BFO":3,"KIZ":-8,"ECH":-3,"FELD":2,"BERGE":-4,"ENDD":-18},
{"t":43.9,"BFO":1,"KIZ":6,"ECH":-5,"FELD":-1,"BERGE":5,"ENDD":12},
{"t":44.0,"BFO":-1,"KIZ":-10,"ECH":4,"FELD":1,"BERGE":-3,"ENDD":-14},
{"t":44.1,"BFO":2,"KIZ":12,"ECH":-3,"FELD":-2,"BERGE":6,"ENDD":10},
{"t":44.2,"BFO":-3,"KIZ":-16,"ECH":6,"FELD":3,"BERGE":-5,"ENDD":-15},
{"t":44.3,"BFO":4,"KIZ":8,"ECH":-5,"FELD":0,"BERGE":3,"ENDD":12},
{"t":44.4,"BFO":1,"KIZ":-4,"ECH":2,"FELD":-1,"BERGE":-7,"ENDD":-8},
{"t":44.5,"BFO":-2,"KIZ":14,"ECH":-4,"FELD":2,"BERGE":4,"ENDD":14},
{"t":44.6,"BFO":3,"KIZ":-10,"ECH":8,"FELD":-1,"BERGE":-2,"ENDD":-11},
{"t":44.7,"BFO":0,"KIZ":6,"ECH":-2,"FELD":1,"BERGE":6,"ENDD":9},
{"t":44.8,"BFO":-1,"KIZ":-12,"ECH":-6,"FELD":-3,"BERGE":-4,"ENDD":-16},
{"t":44.9,"BFO":2,"KIZ":18,"ECH":3,"FELD":2,"BERGE":5,"ENDD":10},
{"t":45.0,"BFO":3,"KIZ":-8,"ECH":5,"FELD":0,"BERGE":-5,"ENDD":-8},
{"t":45.1,"BFO":1,"KIZ":6,"ECH":-6,"FELD":2,"BERGE":3,"ENDD":12},
{"t":45.2,"BFO":-2,"KIZ":-10,"ECH":3,"FELD":-1,"BERGE":-6,"ENDD":-14},
{"t":45.3,"BFO":0,"KIZ":14,"ECH":-2,"FELD":1,"BERGE":7,"ENDD":6},
{"t":45.4,"BFO":4,"KIZ":-6,"ECH":6,"FELD":-2,"BERGE":-4,"ENDD":-10},
{"t":45.5,"BFO":2,"KIZ":10,"ECH":-4,"FELD":3,"BERGE":2,"ENDD":13},
{"t":45.6,"BFO":-1,"KIZ":-18,"ECH":-5,"FELD":0,"BERGE":-3,"ENDD":-7},
{"t":45.7,"BFO":-3,"KIZ":8,"ECH":4,"FELD":-1,"BERGE":5,"ENDD":9},
{"t":45.8,"BFO":1,"KIZ":-4,"ECH":2,"FELD":1,"BERGE":-6,"ENDD":-12},
{"t":45.9,"BFO":2,"KIZ":12,"ECH":-3,"FELD":-2,"BERGE":4,"ENDD":5},
{"t":46.0,"BFO":0,"KIZ":-14,"ECH":6,"FELD":2,"BERGE":-2,"ENDD":11},
{"t":46.1,"BFO":-2,"KIZ":16,"ECH":-4,"FELD":-1,"BERGE":5,"ENDD":-9},
{"t":46.2,"BFO":3,"KIZ":-8,"ECH":2,"FELD":0,"BERGE":-4,"ENDD":7},
{"t":46.3,"BFO":1,"KIZ":6,"ECH":-5,"FELD":1,"BERGE":3,"ENDD":-13},
{"t":46.4,"BFO":-1,"KIZ":-12,"ECH":7,"FELD":-2,"BERGE":-6,"ENDD":10},
{"t":46.5,"BFO":2,"KIZ":10,"ECH":-3,"FELD":1,"BERGE":4,"ENDD":-4},
{"t":46.6,"BFO":4,"KIZ":-4,"ECH":4,"FELD":-1,"BERGE":-3,"ENDD":12},
{"t":46.7,"BFO":1,"KIZ":14,"ECH":-6,"FELD":3,"BERGE":7,"ENDD":-8},
{"t":46.8,"BFO":-2,"KIZ":-16,"ECH":3,"FELD":0,"BERGE":-5,"ENDD":6},
{"t":46.9,"BFO":0,"KIZ":8,"ECH":-2,"FELD":-1,"BERGE":2,"ENDD":-11},
{"t":47.0,"BFO":2,"KIZ":-6,"ECH":5,"FELD":1,"BERGE":-4,"ENDD":8},
{"t":47.1,"BFO":3,"KIZ":10,"ECH":-3,"FELD":-3,"BERGE":6,"ENDD":-12},
{"t":47.2,"BFO":0,"KIZ":-14,"ECH":-5,"FELD":2,"BERGE":-3,"ENDD":5},
{"t":47.3,"BFO":-3,"KIZ":18,"ECH":4,"FELD":0,"BERGE":5,"ENDD":14},
{"t":47.4,"BFO":-1,"KIZ":-8,"ECH":6,"FELD":-1,"BERGE":-7,"ENDD":-6},
{"t":47.5,"BFO":2,"KIZ":6,"ECH":-2,"FELD":2,"BERGE":3,"ENDD":-9},
{"t":47.6,"BFO":1,"KIZ":-10,"ECH":3,"FELD":-2,"BERGE":-2,"ENDD":11},
{"t":47.7,"BFO":-2,"KIZ":12,"ECH":-4,"FELD":1,"BERGE":4,"ENDD":-3},
{"t":47.8,"BFO":0,"KIZ":-20,"ECH":5,"FELD":0,"BERGE":-5,"ENDD":7},
{"t":47.9,"BFO":3,"KIZ":16,"ECH":-6,"FELD":1,"BERGE":6,"ENDD":-10},
{"t":48.0,"BFO":1,"KIZ":-6,"ECH":2,"FELD":-1,"BERGE":-3,"ENDD":9},
{"t":48.1,"BFO":-1,"KIZ":8,"ECH":4,"FELD":2,"BERGE":4,"ENDD":-5},
{"t":48.2,"BFO":2,"KIZ":-12,"ECH":-3,"FELD":0,"BERGE":-6,"ENDD":12},
{"t":48.3,"BFO":4,"KIZ":4,"ECH":5,"FELD":-2,"BERGE":2,"ENDD":-8},
{"t":48.4,"BFO":1,"KIZ":-6,"ECH":-5,"FELD":1,"BERGE":-4,"ENDD":4},
{"t":48.5,"BFO":-2,"KIZ":14,"ECH":3,"FELD":-1,"BERGE":5,"ENDD":-11},
{"t":48.6,"BFO":-1,"KIZ":-10,"ECH":-2,"FELD":3,"BERGE":-3,"ENDD":7},
{"t":48.7,"BFO":1,"KIZ":20,"ECH":6,"FELD":0,"BERGE":6,"ENDD":13},
{"t":48.8,"BFO":3,"KIZ":-8,"ECH":-4,"FELD":-2,"BERGE":-2,"ENDD":-6},
{"t":48.9,"BFO":0,"KIZ":10,"ECH":2,"FELD":1,"BERGE":4,"ENDD":-3},
{"t":49.0,"BFO":-2,"KIZ":-16,"ECH":-5,"FELD":0,"BERGE":-5,"ENDD":10},
{"t":49.1,"BFO":1,"KIZ":6,"ECH":4,"FELD":1,"BERGE":3,"ENDD":-7},
{"t":49.2,"BFO":3,"KIZ":-4,"ECH":3,"FELD":-1,"BERGE":-4,"ENDD":4},
{"t":49.3,"BFO":2,"KIZ":12,"ECH":-6,"FELD":2,"BERGE":6,"ENDD":-12},
{"t":49.4,"BFO":-1,"KIZ":-14,"ECH":5,"FELD":-2,"BERGE":-3,"ENDD":9},
{"t":49.5,"BFO":-4,"KIZ":8,"ECH":-2,"FELD":0,"BERGE":5,"ENDD":-5},
{"t":49.6,"BFO":0,"KIZ":-10,"ECH":4,"FELD":1,"BERGE":-7,"ENDD":11},
{"t":49.7,"BFO":2,"KIZ":16,"ECH":-3,"FELD":-1,"BERGE":2,"ENDD":-8},
{"t":49.8,"BFO":1,"KIZ":-6,"ECH":-5,"FELD":2,"BERGE":-4,"ENDD":6},
{"t":49.9,"BFO":-1,"KIZ":10,"ECH":6,"FELD":0,"BERGE":3,"ENDD":-4},
{"t":50.0,"BFO":2,"KIZ":-12,"ECH":3,"FELD":-1,"BERGE":-2,"ENDD":12},
{"t":50.1,"BFO":0,"KIZ":14,"ECH":-4,"FELD":0,"BERGE":6,"ENDD":-9},
{"t":50.2,"BFO":-2,"KIZ":-8,"ECH":6,"FELD":2,"BERGE":-5,"ENDD":5},
{"t":50.3,"BFO":1,"KIZ":6,"ECH":-2,"FELD":-1,"BERGE":4,"ENDD":-6},
{"t":50.4,"BFO":3,"KIZ":-16,"ECH":-5,"FELD":1,"BERGE":-3,"ENDD":10},
{"t":50.5,"BFO":1,"KIZ":12,"ECH":4,"FELD":-2,"BERGE":7,"ENDD":-11},
{"t":50.6,"BFO":-1,"KIZ":-4,"ECH":2,"FELD":0,"BERGE":-4,"ENDD":4},
{"t":50.7,"BFO":2,"KIZ":10,"ECH":-6,"FELD":3,"BERGE":2,"ENDD":8},
{"t":50.8,"BFO":4,"KIZ":-12,"ECH":5,"FELD":-1,"BERGE":-6,"ENDD":-7},
{"t":50.9,"BFO":1,"KIZ":18,"ECH":-3,"FELD":1,"BERGE":5,"ENDD":3},
{"t":51.0,"BFO":-1,"KIZ":-10,"ECH":4,"FELD":0,"BERGE":-3,"ENDD":-10},
{"t":51.1,"BFO":-3,"KIZ":8,"ECH":-2,"FELD":-2,"BERGE":4,"ENDD":7},
{"t":51.2,"BFO":0,"KIZ":-14,"ECH":5,"FELD":1,"BERGE":-2,"ENDD":-4},
{"t":51.3,"BFO":2,"KIZ":12,"ECH":-5,"FELD":0,"BERGE":6,"ENDD":11},
{"t":51.4,"BFO":1,"KIZ":-6,"ECH":3,"FELD":2,"BERGE":-5,"ENDD":-8},
{"t":51.5,"BFO":-2,"KIZ":16,"ECH":6,"FELD":-1,"BERGE":3,"ENDD":5},
{"t":51.6,"BFO":1,"KIZ":-10,"ECH":-4,"FELD":1,"BERGE":-4,"ENDD":-12},
{"t":51.7,"BFO":3,"KIZ":4,"ECH":2,"FELD":-1,"BERGE":5,"ENDD":9},
{"t":51.8,"BFO":2,"KIZ":-8,"ECH":-3,"FELD":0,"BERGE":-3,"ENDD":-3},
{"t":51.9,"BFO":0,"KIZ":14,"ECH":5,"FELD":-2,"BERGE":2,"ENDD":6},
{"t":52.0,"BFO":1,"KIZ":-18,"ECH":-4,"FELD":2,"BERGE":-6,"ENDD":-8},
{"t":52.1,"BFO":3,"KIZ":10,"ECH":3,"FELD":0,"BERGE":4,"ENDD":12},
{"t":52.2,"BFO":1,"KIZ":-6,"ECH":-2,"FELD":-1,"BERGE":-3,"ENDD":-5},
{"t":52.3,"BFO":-2,"KIZ":18,"ECH":6,"FELD":1,"BERGE":10,"ENDD":4},
{"t":52.4,"BFO":-1,"KIZ":-12,"ECH":-5,"FELD":-3,"BERGE":-5,"ENDD":-9},
{"t":52.5,"BFO":2,"KIZ":8,"ECH":4,"FELD":2,"BERGE":3,"ENDD":10},
{"t":52.6,"BFO":0,"KIZ":-16,"ECH":2,"FELD":0,"BERGE":-2,"ENDD":-6},
{"t":52.7,"BFO":-3,"KIZ":12,"ECH":-3,"FELD":-1,"BERGE":5,"ENDD":3},
{"t":52.8,"BFO":-1,"KIZ":-4,"ECH":5,"FELD":1,"BERGE":-4,"ENDD":-11},
{"t":52.9,"BFO":2,"KIZ":6,"ECH":-6,"FELD":0,"BERGE":6,"ENDD":7},
{"t":53.0,"BFO":3,"KIZ":-10,"ECH":3,"FELD":-1,"BERGE":-3,"ENDD":5},
{"t":53.1,"BFO":1,"KIZ":16,"ECH":5,"FELD":2,"BERGE":2,"ENDD":-10},
{"t":53.2,"BFO":-1,"KIZ":-10,"ECH":-4,"FELD":0,"BERGE":-5,"ENDD":8},
{"t":53.3,"BFO":0,"KIZ":8,"ECH":2,"FELD":-2,"BERGE":4,"ENDD":-4},
{"t":53.4,"BFO":2,"KIZ":-14,"ECH":-6,"FELD":1,"BERGE":-6,"ENDD":12},
{"t":53.5,"BFO":4,"KIZ":22,"ECH":4,"FELD":0,"BERGE":3,"ENDD":-7},
{"t":53.6,"BFO":2,"KIZ":-8,"ECH":-2,"FELD":-1,"BERGE":-2,"ENDD":3},
{"t":53.7,"BFO":-1,"KIZ":12,"ECH":5,"FELD":2,"BERGE":5,"ENDD":-9},
{"t":53.8,"BFO":-2,"KIZ":-18,"ECH":-3,"FELD":-1,"BERGE":-4,"ENDD":6},
{"t":53.9,"BFO":1,"KIZ":6,"ECH":3,"FELD":1,"BERGE":3,"ENDD":10},
{"t":54.0,"BFO":2,"KIZ":-4,"ECH":-5,"FELD":0,"BERGE":-5,"ENDD":-6},
{"t":54.1,"BFO":0,"KIZ":12,"ECH":6,"FELD":-1,"BERGE":6,"ENDD":4},
{"t":54.2,"BFO":-3,"KIZ":-16,"ECH":-3,"FELD":3,"BERGE":-3,"ENDD":-11},
{"t":54.3,"BFO":-1,"KIZ":10,"ECH":4,"FELD":-1,"BERGE":2,"ENDD":8},
{"t":54.4,"BFO":2,"KIZ":-6,"ECH":2,"FELD":0,"BERGE":-4,"ENDD":-3},
{"t":54.5,"BFO":3,"KIZ":14,"ECH":-5,"FELD":1,"BERGE":5,"ENDD":9},
{"t":54.6,"BFO":1,"KIZ":-12,"ECH":3,"FELD":-2,"BERGE":-3,"ENDD":-7},
{"t":54.7,"BFO":0,"KIZ":20,"ECH":-2,"FELD":1,"BERGE":4,"ENDD":12},
{"t":54.8,"BFO":-2,"KIZ":-10,"ECH":6,"FELD":0,"BERGE":-6,"ENDD":-5},
{"t":54.9,"BFO":1,"KIZ":8,"ECH":-4,"FELD":-1,"BERGE":3,"ENDD":2},
{"t":55.0,"BFO":3,"KIZ":-14,"ECH":2,"FELD":2,"BERGE":-2,"ENDD":8},
{"t":55.1,"BFO":2,"KIZ":6,"ECH":-5,"FELD":0,"BERGE":4,"ENDD":-9},
{"t":55.2,"BFO":0,"KIZ":-8,"ECH":4,"FELD":-1,"BERGE":-5,"ENDD":5},
{"t":55.3,"BFO":-2,"KIZ":16,"ECH":-3,"FELD":1,"BERGE":3,"ENDD":-12},
{"t":55.4,"BFO":1,"KIZ":-12,"ECH":6,"FELD":-1,"BERGE":-3,"ENDD":10},
{"t":55.5,"BFO":2,"KIZ":10,"ECH":-2,"FELD":2,"BERGE":6,"ENDD":-4},
{"t":55.6,"BFO":-1,"KIZ":-4,"ECH":-4,"FELD":0,"BERGE":-4,"ENDD":7},
{"t":55.7,"BFO":-5,"KIZ":18,"ECH":5,"FELD":-3,"BERGE":2,"ENDD":-8},
{"t":55.8,"BFO":-1,"KIZ":-14,"ECH":3,"FELD":1,"BERGE":-5,"ENDD":3},
{"t":55.9,"BFO":2,"KIZ":8,"ECH":-6,"FELD":0,"BERGE":4,"ENDD":11},
{"t":56.0,"BFO":1,"KIZ":-10,"ECH":4,"FELD":-1,"BERGE":-3,"ENDD":-7},
{"t":56.1,"BFO":3,"KIZ":14,"ECH":-3,"FELD":1,"BERGE":5,"ENDD":5},
{"t":56.2,"BFO":2,"KIZ":-10,"ECH":5,"FELD":0,"BERGE":-2,"ENDD":-10},
{"t":56.3,"BFO":0,"KIZ":6,"ECH":-6,"FELD":2,"BERGE":4,"ENDD":6},
{"t":56.4,"BFO":-2,"KIZ":-16,"ECH":2,"FELD":-2,"BERGE":-6,"ENDD":-3},
{"t":56.5,"BFO":1,"KIZ":12,"ECH":4,"FELD":0,"BERGE":3,"ENDD":12},
{"t":56.6,"BFO":3,"KIZ":-8,"ECH":-5,"FELD":1,"BERGE":-4,"ENDD":-8},
{"t":56.7,"BFO":1,"KIZ":22,"ECH":3,"FELD":-1,"BERGE":5,"ENDD":4},
{"t":56.8,"BFO":-1,"KIZ":-12,"ECH":-2,"FELD":2,"BERGE":-2,"ENDD":-9},
{"t":56.9,"BFO":0,"KIZ":10,"ECH":6,"FELD":-1,"BERGE":3,"ENDD":7},
{"t":57.0,"BFO":2,"KIZ":-6,"ECH":-4,"FELD":1,"BERGE":-5,"ENDD":10},
{"t":57.1,"BFO":1,"KIZ":8,"ECH":2,"FELD":-1,"BERGE":2,"ENDD":-4},
{"t":57.2,"BFO":-1,"KIZ":-14,"ECH":5,"FELD":2,"BERGE":-4,"ENDD":6},
{"t":57.3,"BFO":1,"KIZ":16,"ECH":-3,"FELD":0,"BERGE":6,"ENDD":-11},
{"t":57.4,"BFO":3,"KIZ":-10,"ECH":4,"FELD":-1,"BERGE":-3,"ENDD":8},
{"t":57.5,"BFO":2,"KIZ":6,"ECH":-6,"FELD":1,"BERGE":4,"ENDD":-5},
{"t":57.6,"BFO":0,"KIZ":-4,"ECH":3,"FELD":-2,"BERGE":-5,"ENDD":3},
{"t":57.7,"BFO":-2,"KIZ":14,"ECH":-2,"FELD":0,"BERGE":3,"ENDD":-9},
{"t":57.8,"BFO":0,"KIZ":-18,"ECH":5,"FELD":3,"BERGE":-2,"ENDD":12},
{"t":57.9,"BFO":2,"KIZ":12,"ECH":-4,"FELD":-1,"BERGE":5,"ENDD":-6},
{"t":58.0,"BFO":1,"KIZ":-8,"ECH":3,"FELD":0,"BERGE":-4,"ENDD":4},
{"t":58.1,"BFO":-1,"KIZ":10,"ECH":-5,"FELD":2,"BERGE":3,"ENDD":-8},
{"t":58.2,"BFO":2,"KIZ":-6,"ECH":2,"FELD":-1,"BERGE":-6,"ENDD":11},
{"t":58.3,"BFO":4,"KIZ":18,"ECH":6,"FELD":0,"BERGE":4,"ENDD":-3},
{"t":58.4,"BFO":2,"KIZ":-12,"ECH":-4,"FELD":1,"BERGE":-2,"ENDD":7},
{"t":58.5,"BFO":-1,"KIZ":8,"ECH":3,"FELD":-2,"BERGE":5,"ENDD":-10},
{"t":58.6,"BFO":-3,"KIZ":-16,"ECH":-2,"FELD":1,"BERGE":-3,"ENDD":5},
{"t":58.7,"BFO":0,"KIZ":14,"ECH":5,"FELD":0,"BERGE":2,"ENDD":9},
{"t":58.8,"BFO":2,"KIZ":-10,"ECH":-6,"FELD":-1,"BERGE":-4,"ENDD":-6},
{"t":58.9,"BFO":1,"KIZ":6,"ECH":4,"FELD":2,"BERGE":6,"ENDD":-2},
{"t":59.0,"BFO":0,"KIZ":-12,"ECH":-2,"FELD":-1,"BERGE":-3,"ENDD":8},
{"t":59.1,"BFO":2,"KIZ":16,"ECH":4,"FELD":0,"BERGE":5,"ENDD":-11},
{"t":59.2,"BFO":1,"KIZ":-8,"ECH":-5,"FELD":1,"BERGE":-2,"ENDD":4},
{"t":59.3,"BFO":-1,"KIZ":10,"ECH":3,"FELD":-2,"BERGE":3,"ENDD":-7},
{"t":59.4,"BFO":1,"KIZ":-14,"ECH":6,"FELD":2,"BERGE":-5,"ENDD":12},
{"t":59.5,"BFO":3,"KIZ":20,"ECH":-4,"FELD":0,"BERGE":4,"ENDD":-5},
{"t":59.6,"BFO":1,"KIZ":-12,"ECH":2,"FELD":-1,"BERGE":-6,"ENDD":9},
{"t":59.7,"BFO":-2,"KIZ":8,"ECH":-3,"FELD":1,"BERGE":3,"ENDD":-8},
{"t":59.8,"BFO":0,"KIZ":-6,"ECH":5,"FELD":0,"BERGE":-2,"ENDD":3},
{"t":59.9,"BFO":1,"KIZ":14,"ECH":-3,"FELD":-1,"BERGE":4,"ENDD":6},
{"t":60.0,"BFO":0,"KIZ":-2,"ECH":0,"FELD":0,"BERGE":0,"ENDD":-4}
]},
"vconcat": [
{"width": 1796, "height": 160,
 "title": {"text": "2025-05-31\u00a0 17:09:15 UTC", "fontSize": 37, "fontWeight": "bold", "anchor": "middle", "baseline": "alphabetic", "offset": -24, "dx": 9, "color": "black", "font": "Liberation Sans"},
 "mark": {"type": "line", "color": "black", "strokeWidth": 1.6, "clip": true},
 "encoding": {
  "x": {"field": "t", "type": "quantitative", "scale": {"domain": [0, 60], "nice": false, "zero": false}, "axis": {"values": [0, 20, 40], "labels": false, "title": null, "domain": false, "grid": false, "tickSize": -6, "tickColor": "black", "tickWidth": 2, "minExtent": 0}},
  "y": {"field": "BFO", "type": "quantitative", "scale": {"domain": [-80, 80], "nice": false}, "axis": {"title": "BFO", "ticks": false, "labels": false, "domain": false, "grid": false, "titleAngle": 0, "titleAlign": "right", "titleBaseline": "middle", "titleX": -22, "titleY": 80, "titleFontSize": 36, "titleFontWeight": "normal", "titleColor": "black", "titleFont": "Liberation Sans"}}
 }},
{"width": 1796, "height": 160,
 "mark": {"type": "line", "color": "black", "strokeWidth": 1.6, "clip": true},
 "encoding": {
  "x": {"field": "t", "type": "quantitative", "scale": {"domain": [0, 60], "nice": false, "zero": false}, "axis": {"values": [0, 20, 40], "labels": false, "title": null, "domain": false, "grid": false, "tickSize": -6, "tickColor": "black", "tickWidth": 2, "minExtent": 0}},
  "y": {"field": "KIZ", "type": "quantitative", "scale": {"domain": [-80, 80], "nice": false}, "axis": {"title": "KIZ", "ticks": false, "labels": false, "domain": false, "grid": false, "titleAngle": 0, "titleAlign": "right", "titleBaseline": "middle", "titleX": -22, "titleY": 80, "titleFontSize": 36, "titleFontWeight": "normal", "titleColor": "black", "titleFont": "Liberation Sans"}}
 }},
{"width": 1796, "height": 160,
 "mark": {"type": "line", "color": "black", "strokeWidth": 1.6, "clip": true},
 "encoding": {
  "x": {"field": "t", "type": "quantitative", "scale": {"domain": [0, 60], "nice": false, "zero": false}, "axis": {"values": [0, 20, 40], "labels": false, "title": null, "domain": false, "grid": false, "tickSize": -6, "tickColor": "black", "tickWidth": 2, "minExtent": 0}},
  "y": {"field": "ECH", "type": "quantitative", "scale": {"domain": [-80, 80], "nice": false}, "axis": {"title": "ECH", "ticks": false, "labels": false, "domain": false, "grid": false, "titleAngle": 0, "titleAlign": "right", "titleBaseline": "middle", "titleX": -22, "titleY": 80, "titleFontSize": 36, "titleFontWeight": "normal", "titleColor": "black", "titleFont": "Liberation Sans"}}
 }},
{"width": 1796, "height": 160,
 "mark": {"type": "line", "color": "black", "strokeWidth": 1.6, "clip": true},
 "encoding": {
  "x": {"field": "t", "type": "quantitative", "scale": {"domain": [0, 60], "nice": false, "zero": false}, "axis": {"values": [0, 20, 40], "labels": false, "title": null, "domain": false, "grid": false, "tickSize": -6, "tickColor": "black", "tickWidth": 2, "minExtent": 0}},
  "y": {"field": "FELD", "type": "quantitative", "scale": {"domain": [-80, 80], "nice": false}, "axis": {"title": "FELD", "ticks": false, "labels": false, "domain": false, "grid": false, "titleAngle": 0, "titleAlign": "right", "titleBaseline": "middle", "titleX": -22, "titleY": 80, "titleFontSize": 36, "titleFontWeight": "normal", "titleColor": "black", "titleFont": "Liberation Sans"}}
 }},
{"width": 1796, "height": 160,
 "mark": {"type": "line", "color": "black", "strokeWidth": 1.6, "clip": true},
 "encoding": {
  "x": {"field": "t", "type": "quantitative", "scale": {"domain": [0, 60], "nice": false, "zero": false}, "axis": {"values": [0, 20, 40], "labels": false, "title": null, "domain": false, "grid": false, "tickSize": -6, "tickColor": "black", "tickWidth": 2, "minExtent": 0}},
  "y": {"field": "BERGE", "type": "quantitative", "scale": {"domain": [-80, 80], "nice": false}, "axis": {"title": "BERGE", "ticks": false, "labels": false, "domain": false, "grid": false, "titleAngle": 0, "titleAlign": "right", "titleBaseline": "middle", "titleX": -22, "titleY": 80, "titleFontSize": 36, "titleFontWeight": "normal", "titleColor": "black", "titleFont": "Liberation Sans"}}
 }},
{"width": 1796, "height": 160,
 "mark": {"type": "line", "color": "black", "strokeWidth": 1.6, "clip": true},
 "encoding": {
  "x": {"field": "t", "type": "quantitative", "scale": {"domain": [0, 60], "nice": false, "zero": false}, "axis": {"values": [0, 20, 40], "labels": true, "labelFlush": false, "labelFontSize": 34, "labelColor": "black", "labelFont": "Liberation Sans", "labelPadding": 8, "title": "Zeit[s]", "titleFontSize": 36, "titleFontWeight": "bold", "titleColor": "black", "titleFont": "Liberation Sans", "titleX": 804, "titleY": 79, "titleAlign": "center", "titleBaseline": "alphabetic", "domain": false, "grid": false, "tickSize": -6, "tickColor": "black", "tickWidth": 2}},
  "y": {"field": "ENDD", "type": "quantitative", "scale": {"domain": [-80, 80], "nice": false}, "axis": {"title": "ENDD", "ticks": false, "labels": false, "domain": false, "grid": false, "titleAngle": 0, "titleAlign": "right", "titleBaseline": "middle", "titleX": -22, "titleY": 80, "titleFontSize": 36, "titleFontWeight": "normal", "titleColor": "black", "titleFont": "Liberation Sans"}}
 }}
]
}
